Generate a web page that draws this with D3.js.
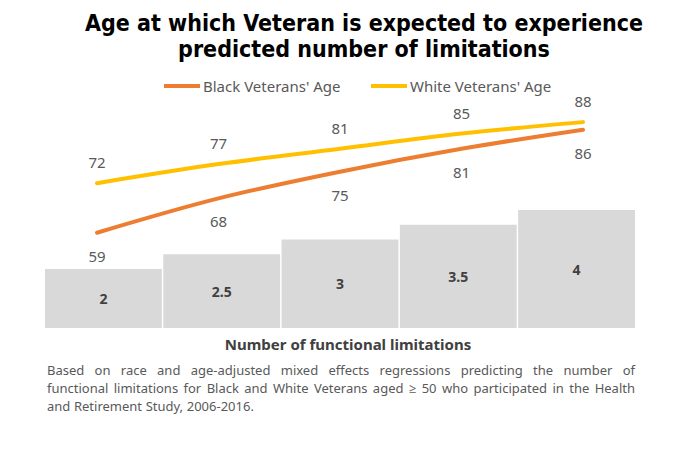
<!DOCTYPE html>
<html>
<head>
<meta charset="utf-8">
<script src="https://d3js.org/d3.v7.min.js"></script>
<style>
    body { margin: 0; background: #ffffff; }
    svg .font { font-family: "Noto Sans", "Open Sans", sans-serif; }
    svg .title { font-family: "DejaVu Sans Condensed", "DejaVu Sans", sans-serif; font-stretch: condensed; font-weight: bold; font-size: 23px; fill: #000000; }
    svg .legend { font-size: 15px; fill: #595959; }
    svg .value { font-size: 15px; fill: #595959; }
    svg .bar-label { font-size: 14px; font-weight: bold; fill: #404040; }
    svg .axis-title { font-size: 15px; font-weight: bold; fill: #404040; }
    svg .note { font-size: 13px; fill: #595959; }
</style>
</head>
<body>
<script>
const W = 680, H = 470;

// data
const limitations = [2, 2.5, 3, 3.5, 4];
const blackAges = [59, 68, 75, 81, 86];
const whiteAges = [72, 77, 81, 85, 88];
const seriesNames = ["Black Veterans' Age", "White Veterans' Age"];
const seriesColors = ["#ED7D31", "#FFC000"];
const titleLines = ["Age at which Veteran is expected to experience", "predicted number of limitations"];
const axisTitle = "Number of functional limitations";
const noteLines = [
    "Based on race and age-adjusted mixed effects regressions predicting the number of",
    "functional limitations for Black and White Veterans aged \u2265 50 who participated in the Health",
    "and Retirement Study, 2006-2016."
];

const svg = d3.select("body").append("svg")
    .attr("width", W)
    .attr("height", H);

// title
svg.append("text")
    .attr("class", "title")
    .attr("x", 364)
    .attr("text-anchor", "middle")
    .selectAll("tspan")
    .data(titleLines)
    .enter()
    .append("tspan")
    .attr("x", 364)
    .attr("y", (d, i) => 31 + i * 26)
    .text(d => d);

// bars
const xBand = d3.scaleBand()
    .domain(limitations)
    .range([45, 635])
    .paddingInner(0.012);
const yBar = d3.scaleLinear()
    .domain([0, 4])
    .range([328, 210]);

svg.append("g").selectAll("rect")
    .data(limitations)
    .enter()
    .append("rect")
    .attr("x", d => xBand(d))
    .attr("width", xBand.bandwidth())
    .attr("y", d => yBar(d))
    .attr("height", d => yBar(0) - yBar(d))
    .attr("fill", "#D9D9D9");

svg.append("g").selectAll("text")
    .data(limitations)
    .enter()
    .append("text")
    .attr("class", "font bar-label")
    .attr("text-anchor", "middle")
    .attr("dominant-baseline", "central")
    .attr("x", d => xBand(d) + xBand.bandwidth() / 2)
    .attr("y", d => (yBar(d) + yBar(0)) / 2)
    .text(d => d);

// lines
const xPoint = d3.scalePoint()
    .domain(limitations)
    .range([97, 583]);
const yAge = d3.scaleLinear()
    .domain([55, 90])
    .range([248, 114.5]);

const line = d3.line()
    .x((d, i) => xPoint(limitations[i]))
    .y(d => yAge(d))
    .curve(d3.curveMonotoneX);

[blackAges, whiteAges].forEach(function(ages, s) {
    svg.append("path")
        .datum(ages)
        .attr("d", line)
        .attr("fill", "none")
        .attr("stroke", seriesColors[s])
        .attr("stroke-width", 4)
        .attr("stroke-linecap", "round");

    svg.append("g").selectAll("text")
        .data(ages)
        .enter()
        .append("text")
        .attr("class", "font value")
        .attr("text-anchor", "middle")
        .attr("dominant-baseline", "central")
        .attr("x", (d, i) => xPoint(limitations[i]))
        .attr("y", d => s === 0 ? yAge(d) + 23 : yAge(d) - 21)
        .text(d => d);
});

// legend
const legendX = [164, 371];
seriesNames.forEach(function(name, i) {
    svg.append("line")
        .attr("x1", legendX[i])
        .attr("x2", legendX[i] + 36)
        .attr("y1", 86)
        .attr("y2", 86)
        .attr("stroke", seriesColors[i])
        .attr("stroke-width", 4);
    svg.append("text")
        .attr("class", "font legend")
        .attr("x", legendX[i] + 39)
        .attr("y", 86)
        .attr("dominant-baseline", "central")
        .text(name);
});

// axis title
svg.append("text")
    .attr("class", "font axis-title")
    .attr("x", 348)
    .attr("y", 344)
    .attr("text-anchor", "middle")
    .attr("dominant-baseline", "central")
    .text(axisTitle);

// justified note
const NOTE_LEFT = 47, NOTE_RIGHT = 635;
noteLines.forEach(function(lineText, li) {
    const y = 370 + li * 18;
    const words = lineText.split(" ");
    const g = svg.append("g");
    const nodes = words.map(w => g.append("text")
        .attr("class", "font note")
        .attr("y", y)
        .attr("dominant-baseline", "central")
        .text(w));
    const widths = nodes.map(n => n.node().getComputedTextLength());
    const total = d3.sum(widths);
    const last = li === noteLines.length - 1;
    const gap = last ? 3.6 : (NOTE_RIGHT - NOTE_LEFT - total) / (words.length - 1);
    let x = NOTE_LEFT;
    nodes.forEach(function(n, i) {
        n.attr("x", x);
        x += widths[i] + gap;
    });
});
</script>
</body>
</html>
